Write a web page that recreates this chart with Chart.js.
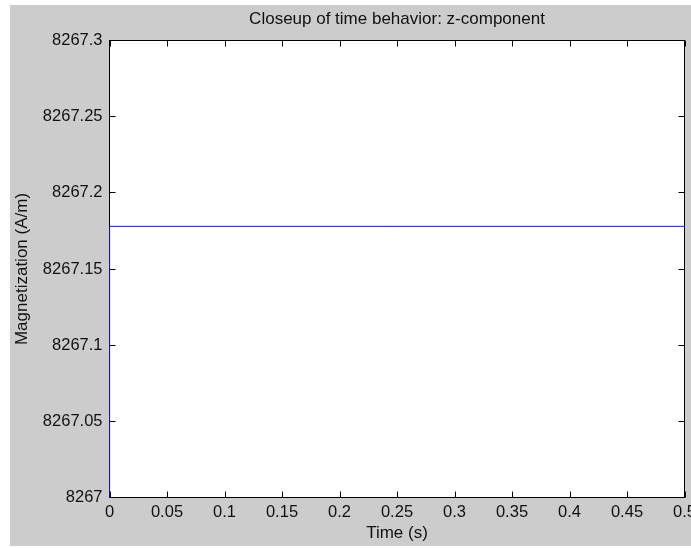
<!DOCTYPE html>
<html>
<head>
<meta charset="utf-8">
<script src="https://cdn.jsdelivr.net/npm/chart.js@4/dist/chart.umd.min.js"></script>
<style>
  body { margin: 0; background: #fff; }
  #wrap { width: 691px; height: 548px; }
</style>
</head>
<body>
<div id="wrap"><canvas id="chart"></canvas></div>
<script>
// time samples (s) and z magnetization (A/m) - step right after t = 0
const times = [0, 0.0001, 0.5];
const magZ = [8266.9, 8267.178, 8267.178];

// axis ranges
const xRange = [0, 0.5];
const xStep = 0.05;
const yRange = [8267, 8267.3];
const yStep = 0.05;

const fmt = v => String(Number(v.toFixed(2)));

// matlab style frame: grey figure, white box, ticks pointing inward
const matlabFrame = {
    id: 'matlabFrame',
    beforeDraw(chart) {
        const ctx = chart.ctx;
        const a = chart.chartArea;
        ctx.save();
        ctx.fillStyle = '#ffffff';
        ctx.fillRect(0, 0, chart.width, chart.height);
        ctx.fillStyle = '#cccccc';
        ctx.fillRect(10, 5, chart.width - 10, 541);
        ctx.fillStyle = '#ffffff';
        ctx.fillRect(a.left, a.top, a.right - a.left, a.bottom - a.top);
        ctx.restore();
    },
    beforeDatasetsDraw(chart) {
        const ctx = chart.ctx;
        const a = chart.chartArea;
        const xs = chart.scales.x, ys = chart.scales.y;
        ctx.save();
        ctx.strokeStyle = '#000000';
        ctx.lineWidth = 1;
        ctx.strokeRect(a.left, a.top, a.right - a.left, a.bottom - a.top);
        ctx.beginPath();
        xs.ticks.forEach(t => {
            const px = Math.round(xs.getPixelForValue(t.value)) + 0.5;
            ctx.moveTo(px, a.bottom); ctx.lineTo(px, a.bottom - 6);
            ctx.moveTo(px, a.top); ctx.lineTo(px, a.top + 6);
        });
        ys.ticks.forEach(t => {
            const py = Math.round(ys.getPixelForValue(t.value) - 0.5) + 0.5;
            ctx.moveTo(a.left, py); ctx.lineTo(a.left + 6, py);
            ctx.moveTo(a.right, py); ctx.lineTo(a.right - 6, py);
        });
        ctx.stroke();
        ctx.restore();
    }
};

const family = 'Liberation Sans, Arial, sans-serif';
const tickFont = { family: family, size: 16.5 };
const labelFont = { family: family, size: 17 };
const textColor = '#111111';

new Chart(document.getElementById('chart'), {
    type: 'line',
    data: {
        datasets: [{
            data: times.map((t, i) => ({ x: t, y: magZ[i] })),
            borderColor: '#1c1ca0',
            borderWidth: 1,
            pointRadius: 0,
            tension: 0,
            clip: { left: 1, top: 0, right: 0, bottom: 0 }
        }]
    },
    options: {
        responsive: true,
        maintainAspectRatio: false,
        animation: false,
        layout: { padding: { left: 0, top: 0, right: 6.5, bottom: 0 } },
        plugins: {
            legend: { display: false },
            tooltip: { enabled: false },
            title: {
                display: true,
                fullSize: false,
                text: 'Closeup of time behavior: z-component',
                color: textColor,
                font: { family: family, size: 17, weight: 'normal' },
                padding: { top: 9.3, bottom: 10.8 }
            }
        },
        scales: {
            x: {
                type: 'linear',
                min: xRange[0],
                max: xRange[1],
                grid: { display: false, drawTicks: false, tickLength: 0 },
                border: { display: false },
                ticks: {
                    stepSize: xStep,
                    autoSkip: false,
                    maxRotation: 0,
                    padding: 5,
                    color: textColor,
                    font: tickFont,
                    callback: v => fmt(v)
                },
                title: {
                    display: true,
                    text: 'Time (s)',
                    color: textColor,
                    font: labelFont,
                    padding: { top: 0, bottom: 4.3 }
                },
                afterFit: s => { s.height = 50.5; s.paddingLeft = 0; s.paddingRight = 0; }
            },
            y: {
                min: yRange[0],
                max: yRange[1],
                grid: { display: false, drawTicks: false, tickLength: 0 },
                border: { display: false },
                ticks: {
                    stepSize: yStep,
                    padding: 7,
                    color: textColor,
                    font: tickFont,
                    callback: v => fmt(v)
                },
                title: {
                    display: true,
                    text: 'Magnetization (A/m)',
                    color: textColor,
                    font: labelFont,
                    padding: { top: 12, bottom: 0 }
                },
                afterFit: s => { s.width = 109.5; s.paddingTop = 0; s.paddingBottom = 0; }
            }
        }
    },
    plugins: [matlabFrame]
});
</script>
</body>
</html>
